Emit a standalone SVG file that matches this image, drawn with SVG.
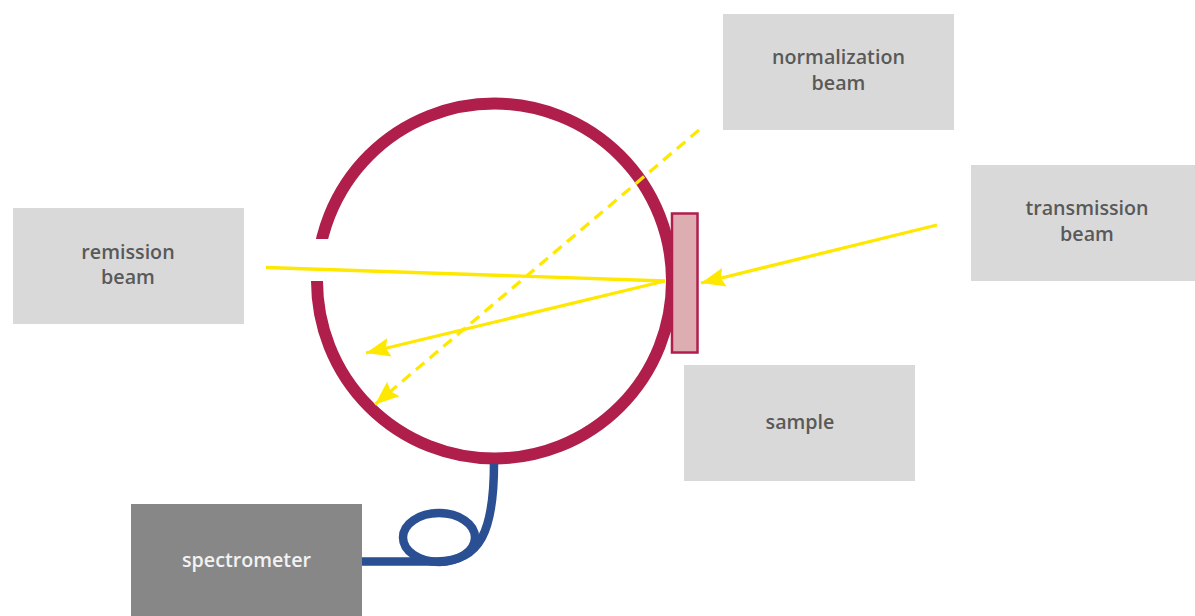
<svg xmlns="http://www.w3.org/2000/svg" width="1195" height="616" viewBox="0 0 1195 616">
<defs>
<marker id="ah" viewBox="0 0 24 20" refX="24" refY="10" markerWidth="24" markerHeight="20" markerUnits="userSpaceOnUse" orient="auto"><path d="M24 10L0 19.500L3.500 10L0 0.500Z" fill="#ffe800"/></marker>
<clipPath id="gap"><path d="M0 0H1195V616H0V281H400V239H0Z"/></clipPath>
</defs>
<style>
.box{fill:#d9d9d9}
text{font-family:"Open Sans","Noto Sans","Liberation Sans",sans-serif;font-size:19.700px;font-weight:600;fill:#595959;text-anchor:middle}
.beam{fill:none;stroke:#ffe800;stroke-width:3.300}
.fiber{fill:none;stroke:#2a4f93;stroke-width:8.500}
</style>
<rect width="1195" height="616" fill="#fff"/>
<g id="sphere"><circle cx="494.500" cy="281" r="177.500" fill="none" stroke="#b01f4c" stroke-width="12" clip-path="url(#gap)"/></g>
<g id="sample-plate"><rect x="672" y="213.500" width="25.500" height="139" fill="#deadb2" stroke="#b01f4c" stroke-width="2.500"/></g>
<g id="connectors">
<path class="fiber" d="M362 561.500H437C481 561.500 494 530 494 463"/>
<ellipse class="fiber" cx="439" cy="537.500" rx="36" ry="24.500"/>
<path class="beam" d="M266 267.500L665 281"/>
<path class="beam" d="M665 281L366 353" marker-end="url(#ah)"/>
<path class="beam" d="M937 225L701 283" marker-end="url(#ah)"/>
<path class="beam" stroke-dasharray="11 7" d="M699 130L375 404.500" marker-end="url(#ah)"/>
</g>
<g id="normalization-beam"><rect class="box" x="723" y="14" width="231" height="116"/><text x="838.500" y="64">normalization</text><text x="838.500" y="90">beam</text></g>
<g id="transmission-beam"><rect class="box" x="971" y="165" width="224" height="116"/><text x="1087" y="215">transmission</text><text x="1087" y="241">beam</text></g>
<g id="remission-beam"><rect class="box" x="13" y="208" width="231" height="116"/><text x="128" y="259">remission</text><text x="128" y="284">beam</text></g>
<g id="sample"><rect class="box" x="684" y="365" width="231" height="116"/><text x="800" y="429">sample</text></g>
<g id="spectrometer"><rect x="131" y="504" width="231" height="112" fill="#878787"/><text x="246.500" y="567" style="fill:#f2f2f2">spectrometer</text></g>
</svg>
